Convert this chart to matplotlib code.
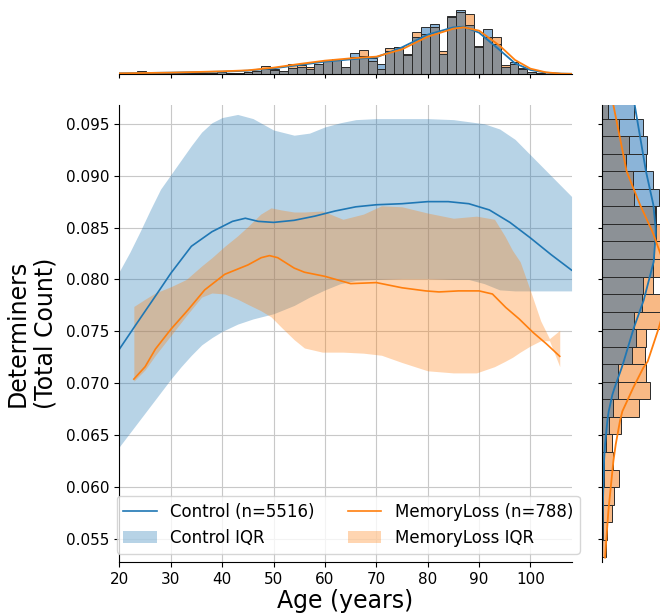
import numpy as np
import matplotlib
matplotlib.use("Agg")
from matplotlib import pyplot as plt
from matplotlib.patches import Patch
from matplotlib.lines import Line2D
from matplotlib.ticker import FormatStrFormatter

BLUE = "#1f77b4"
ORANGE = "#ff7f0e"

# --- main panel: smoothed means and IQR bands ---
ctrl_line_age = [20, 23, 27, 30, 34, 38, 42, 44.5, 47, 50, 54, 58, 62, 66, 70, 75,
                 80, 84, 88, 92, 96, 100, 104, 108]
ctrl_mean = [0.0733, 0.0755, 0.0784, 0.0806, 0.0832, 0.0846, 0.0856, 0.0859, 0.0856,
             0.0855, 0.0857, 0.0861, 0.0866, 0.0870, 0.0872, 0.0873, 0.0875, 0.0875,
             0.0873, 0.0867, 0.0855, 0.0840, 0.0824, 0.0809]

ctrl_band_age = [20, 22, 24, 26, 28, 30, 32, 34, 36, 38, 40, 43, 46, 50, 54, 57, 60,
                 63, 66, 70, 75, 80, 85, 88, 91, 94, 97, 100, 104, 108]
ctrl_q75 = [0.0808, 0.0826, 0.0846, 0.0867, 0.0887, 0.0901, 0.0915, 0.0929, 0.0942,
            0.0951, 0.0956, 0.0959, 0.0955, 0.0944, 0.0939, 0.0941, 0.0947, 0.0951,
            0.0954, 0.0955, 0.0955, 0.0955, 0.0954, 0.0952, 0.0950, 0.0945, 0.0935,
            0.0920, 0.0900, 0.0880]
ctrl_q25 = [0.0639, 0.0652, 0.0665, 0.0678, 0.0691, 0.0704, 0.0716, 0.0727, 0.0737,
            0.0744, 0.0750, 0.0757, 0.0762, 0.0767, 0.0775, 0.0783, 0.0790, 0.0796,
            0.0799, 0.0800, 0.0801, 0.0801, 0.0800, 0.0800, 0.0796, 0.0790, 0.0789,
            0.0789, 0.0789, 0.0789]

ml_line_age = [22.8, 25, 27, 30, 33.4, 36.6, 40.5, 45, 47.6, 49.2, 50.8, 54, 56, 60,
               65, 70, 75, 79.6, 82.2, 86, 90, 92.6, 95.2, 97.8, 100.5, 103.1, 105.7]
ml_mean = [0.0704, 0.0716, 0.0733, 0.0752, 0.0771, 0.0790, 0.0805, 0.0814, 0.0821,
           0.0823, 0.0821, 0.0811, 0.0807, 0.0803, 0.0796, 0.0797, 0.0792, 0.0789,
           0.0788, 0.0789, 0.0789, 0.0786, 0.0773, 0.0762, 0.0749, 0.0738, 0.0726]

ml_band_age = [22.8, 25, 27, 30, 33, 36, 38, 40.5, 43, 45, 47.5, 49.5, 51.5, 54, 56,
               59.5, 63.5, 67.5, 71, 75, 80, 85, 89.5, 93, 95, 96.5, 98, 100, 102,
               103.7, 105.7]
ml_q75 = [0.0774, 0.0781, 0.0787, 0.0793, 0.0800, 0.0813, 0.0821, 0.0832, 0.0842,
          0.0851, 0.0863, 0.0869, 0.0867, 0.0865, 0.0865, 0.0866, 0.0858, 0.0863,
          0.0871, 0.0870, 0.0864, 0.0859, 0.0861, 0.0858, 0.0842, 0.0828, 0.0817,
          0.0789, 0.0760, 0.0743, 0.0751]
ml_q25 = [0.0702, 0.0713, 0.0727, 0.0746, 0.0765, 0.0783, 0.0787, 0.0786, 0.0781,
          0.0776, 0.0770, 0.0764, 0.0754, 0.0742, 0.0734, 0.0730, 0.0730, 0.0729,
          0.0727, 0.0720, 0.0712, 0.0710, 0.0710, 0.0716, 0.0721, 0.0725, 0.0730,
          0.0736, 0.0741, 0.0741, 0.0716]

# --- top marginal: age histograms (relative heights) ---
age_bin_edges = np.linspace(20, 108, 52)
ctrl_age_hist = [2, 2, 4, 2, 2, 3, 4, 2, 2, 2, 3, 5, 3, 4, 5, 8, 14, 14, 10, 18, 22,
                 14, 30, 42, 45, 22, 62, 55, 48, 30, 68, 82, 60, 110, 140, 150, 60,
                 174, 192, 148, 82, 134, 90, 20, 36, 18, 7, 3, 1, 1, 0.5]
ml_age_hist = [1, 2, 9, 1, 1, 2, 6, 1, 1, 2, 2, 10, 2, 3, 5, 8, 24, 12, 8, 30, 27,
               22, 29, 40, 42, 20, 50, 72, 40, 15, 78, 80, 56, 126, 120, 140, 68,
               172, 185, 180, 84, 110, 110, 26, 30, 16, 6, 2, 1, 0.5, 0.5]
kde_age = [20, 30, 40, 45, 50, 55, 60, 65, 70, 75, 80, 85, 87, 90, 94, 97, 100, 103,
           106, 108]
ctrl_age_kde = [2, 4, 7, 10, 17, 27, 37, 44, 50, 80, 118, 140, 142, 124, 72, 32, 12,
                4, 1, 0.5]
ml_age_kde = [2, 4, 8, 11, 19, 30, 40, 47, 52, 74, 112, 136, 140, 130, 85, 42, 16, 5,
              1, 0.5]

# --- right marginal: determiner histograms (relative widths) ---
det_bin_edges = np.linspace(0.05324, 0.05324 + 26 * 0.00169, 27)
ctrl_det_hist = [1, 3, 3, 5, 7, 7, 13, 23, 35, 48, 50, 90, 103, 98, 120, 123, 153,
                 157, 163, 163, 171, 155, 133, 135, 123, 98]
ml_det_hist = [12, 17, 30, 37, 51, 33, 30, 58, 112, 145, 133, 130, 133, 200, 190,
               155, 175, 175, 178, 161, 97, 95, 73, 83, 53, 20]
kde_det = [0.0532, 0.0577, 0.0625, 0.0641, 0.0664, 0.0673, 0.0689, 0.0696, 0.0715,
           0.0721, 0.0753, 0.0780, 0.0817, 0.0843, 0.0849, 0.0872, 0.0904, 0.0968]
ctrl_det_kde = [1, 3, 7, 10, 17, 21, 32, 39, 60, 66, 96, 126, 156, 162, 162, 155,
                133, 99]
ml_det_kde = [10, 20, 35, 42, 55, 62, 85, 95, 125, 138, 171, 195, 185, 156, 148, 115,
              75, 35]

BAR_BLUE = "#8bb4d8"
BAR_ORANGE = "#f8b985"
BAR_GRAY = "#8c9196"
EDGE = "#2a2a2a"

fig = plt.figure(figsize=(6.6, 6.15), dpi=100)
axis = fig.add_axes([0.181, 0.0865, 0.685, 0.7426])
ax_top = fig.add_axes([0.181, 0.8797, 0.685, 0.1073], sharex=axis)
ax_right = fig.add_axes([0.9117, 0.0865, 0.0883, 0.7426], sharey=axis)

# main panel
axis.fill_between(ctrl_band_age, ctrl_q25, ctrl_q75, color=BLUE, alpha=0.32, lw=0)
axis.fill_between(ml_band_age, ml_q25, ml_q75, color=ORANGE, alpha=0.32, lw=0)
axis.plot(ctrl_line_age, ctrl_mean, color=BLUE, lw=1.2)
axis.plot(ml_line_age, ml_mean, color=ORANGE, lw=1.2)

axis.set_xlim(20, 108)
axis.set_ylim(0.0528, 0.0968)
axis.set_xticks(range(20, 101, 10))
axis.set_yticks(np.arange(0.055, 0.0951, 0.005))
axis.yaxis.set_major_formatter(FormatStrFormatter("%.3f"))
axis.tick_params(labelsize=11)
axis.grid(True, color="#c8c8c8", lw=0.8)
axis.set_axisbelow(True)
for side in ("top", "right"):
    axis.spines[side].set_visible(False)
axis.set_xlabel("Age (years)", fontsize=17, labelpad=2)
axis.set_ylabel("Determiners\n(Total Count)", fontsize=17, labelpad=6)

handles = [
    Line2D([], [], color=BLUE, lw=1.2),
    Patch(facecolor=BLUE, alpha=0.32),
    Line2D([], [], color=ORANGE, lw=1.2),
    Patch(facecolor=ORANGE, alpha=0.32),
]
labels = ["Control (n=5516)", "Control IQR", "MemoryLoss (n=788)", "MemoryLoss IQR"]
axis.legend(handles, labels, loc="lower left", ncol=2, fontsize=12,
            bbox_to_anchor=(-0.006, 0.018), borderaxespad=0, columnspacing=2.0)

# top marginal
age_w = np.diff(age_bin_edges)
age_left = age_bin_edges[:-1]
ax_top.bar(age_left, ctrl_age_hist, width=age_w, align="edge", color=BAR_BLUE,
           edgecolor=EDGE, lw=0.7)
ax_top.bar(age_left, ml_age_hist, width=age_w, align="edge", color=BAR_ORANGE,
           edgecolor=EDGE, lw=0.7)
ax_top.bar(age_left, np.minimum(ctrl_age_hist, ml_age_hist), width=age_w,
           align="edge", color=BAR_GRAY, edgecolor=EDGE, lw=0.7)
ax_top.plot(kde_age, ctrl_age_kde, color=BLUE, lw=1.3)
ax_top.plot(kde_age, ml_age_kde, color=ORANGE, lw=1.3)
ax_top.set_ylim(0, 198)
ax_top.tick_params(labelbottom=False, left=False, labelleft=False, length=3)
for side in ("top", "right", "left"):
    ax_top.spines[side].set_visible(False)

# right marginal
det_h = np.diff(det_bin_edges)
det_bottom = det_bin_edges[:-1]
ax_right.barh(det_bottom, ctrl_det_hist, height=det_h, align="edge", color=BAR_BLUE,
              edgecolor=EDGE, lw=0.7)
ax_right.barh(det_bottom, ml_det_hist, height=det_h, align="edge", color=BAR_ORANGE,
              edgecolor=EDGE, lw=0.7)
ax_right.barh(det_bottom, np.minimum(ctrl_det_hist, ml_det_hist), height=det_h,
              align="edge", color=BAR_GRAY, edgecolor=EDGE, lw=0.7)
ax_right.plot(ctrl_det_kde, kde_det, color=BLUE, lw=1.3)
ax_right.plot(ml_det_kde, kde_det, color=ORANGE, lw=1.3)
ax_right.set_xlim(0, 175)
ax_right.tick_params(labelleft=False, bottom=False, labelbottom=False, length=3)
for side in ("top", "right", "bottom"):
    ax_right.spines[side].set_visible(False)

fig.savefig("out.png", dpi=100)
